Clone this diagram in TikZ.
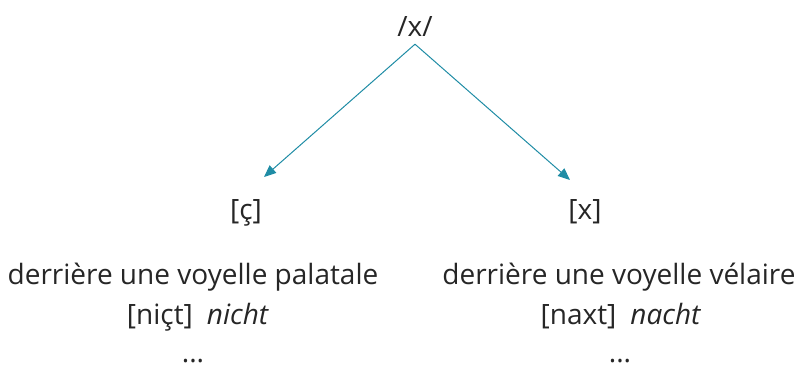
\documentclass[tikz,border=0pt]{standalone}
\usepackage{fontspec}
\setmainfont{Open Sans}
\usetikzlibrary{arrows.meta}
\definecolor{arrowteal}{RGB}{31,140,165}
\definecolor{textgray}{RGB}{38,38,38}
\begin{document}
\begin{tikzpicture}[x=1pt, y=-1pt,
  word/.style={anchor=base, inner sep=0pt, text=textgray, font=\fontsize{28}{32}\selectfont},
  branch/.style={arrowteal, line width=1pt, -{Triangle[length=12pt, width=10pt]}}]
  \useasboundingbox (0, 0) rectangle (796, 368);

  \node[word] (phoneme) at (415, 36) {/x/};
  \node[word] (palatal) at (246, 219) {[ç]};
  \node[word] (velar) at (585, 219) {[x]};

  \coordinate (palTip) at (264, 177);
  \coordinate (velTip) at (570, 180);
  \draw[branch] (phoneme.south) ++(0, 8) -- (palTip);
  \draw[branch] (phoneme.south) ++(0, 8) -- (velTip);

  \node[word] (palCtx) at (193, 284) {derrière une voyelle palatale};
  \node[word] (palEx) at (198, 324) {[niçt]\hspace{0.5em}\textit{nicht}};
  \node[word] (palMore) at (193, 362) {...};

  \node[word] (velCtx) at (619, 284) {derrière une voyelle vélaire};
  \node[word] (velEx) at (621, 324) {[naxt]\hspace{0.5em}\textit{nacht}};
  \node[word] (velMore) at (620, 362) {...};
\end{tikzpicture}
\end{document}
